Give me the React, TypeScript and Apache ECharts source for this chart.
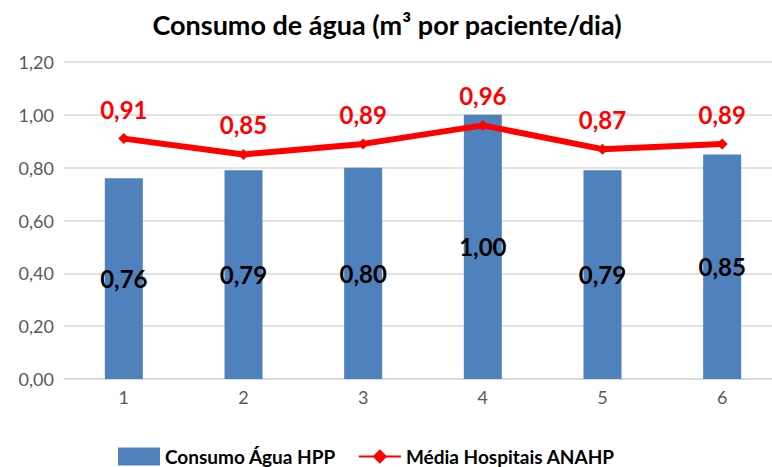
import React, { useEffect, useRef } from "react";
import * as echarts from "echarts";

const categories = ["1", "2", "3", "4", "5", "6"];
const consumoHPP = [0.76, 0.79, 0.8, 1.0, 0.79, 0.85];
const mediaANAHP = [0.91, 0.85, 0.89, 0.96, 0.87, 0.89];
const yTicks = { min: 0, max: 1.2, interval: 0.2 };

const fmt = (v: number) => v.toFixed(2).replace(".", ",");
const FONT = "Lato";

export default function App() {
  const ref = useRef<HTMLDivElement>(null);
  useEffect(() => {
    if (!ref.current) return;
    const chart = echarts.init(ref.current, undefined, { renderer: "svg" });
    chart.setOption({
      animation: false,
      backgroundColor: "#ffffff",
      title: {
        text: "Consumo de água (m³ por paciente/dia)",
        left: 382,
        textAlign: "center",
        top: 6,
        textStyle: { fontFamily: FONT, fontWeight: "bold", fontSize: 27, color: "#000" },
      },
      grid: {
        left: 64,
        width: 718,
        top: 62,
        bottom: 88,
        containLabel: false,
        outerBoundsMode: "none",
      },
      legend: {
        left: 113,
        top: 442,
        itemWidth: 42,
        itemHeight: 18,
        itemGap: 22,
        textStyle: {
          fontFamily: FONT,
          fontSize: 19,
          fontWeight: "bold",
          color: "#000",
          lineHeight: 18,
        },
        data: [
          { name: "Consumo Água HPP", icon: "rect" },
          { name: "Média Hospitais ANAHP" },
        ],
      },
      xAxis: {
        type: "category",
        data: categories,
        axisLine: { lineStyle: { color: "#d9d9d9", width: 1.5 } },
        axisTick: { show: false },
        axisLabel: { fontFamily: FONT, fontSize: 18, color: "#595959", margin: 9 },
      },
      yAxis: {
        type: "value",
        min: yTicks.min,
        max: yTicks.max,
        interval: yTicks.interval,
        axisLabel: {
          fontFamily: FONT,
          fontSize: 18,
          color: "#595959",
          margin: 10,
          formatter: (v: number) => fmt(v),
        },
        splitLine: { lineStyle: { color: "#d9d9d9", width: 1.5 } },
        axisLine: { show: false },
        axisTick: { show: false },
      },
      series: [
        {
          name: "Consumo Água HPP",
          type: "bar",
          data: consumoHPP,
          barWidth: 38,
          itemStyle: { color: "#4f81bd" },
          label: {
            show: true,
            position: "inside",
            fontFamily: FONT,
            fontWeight: "bold",
            fontSize: 24,
            color: "#000",
            formatter: (p: any) => fmt(p.value),
          },
        },
        {
          name: "Média Hospitais ANAHP",
          type: "line",
          data: mediaANAHP,
          symbol: "diamond",
          symbolSize: 11,
          lineStyle: { color: "#ff0000", width: 6 },
          itemStyle: { color: "#ff0000" },
          label: {
            show: true,
            position: "top",
            distance: 12,
            fontFamily: FONT,
            fontWeight: "bold",
            fontSize: 24,
            color: "#ff0000",
            formatter: (p: any) => fmt(p.value),
          },
        },
      ],
    });
    return () => chart.dispose();
  }, []);
  return (
    <div
      ref={ref}
      style={{ position: "fixed", left: 0, top: 0, width: 772, height: 467 }}
    />
  );
}
